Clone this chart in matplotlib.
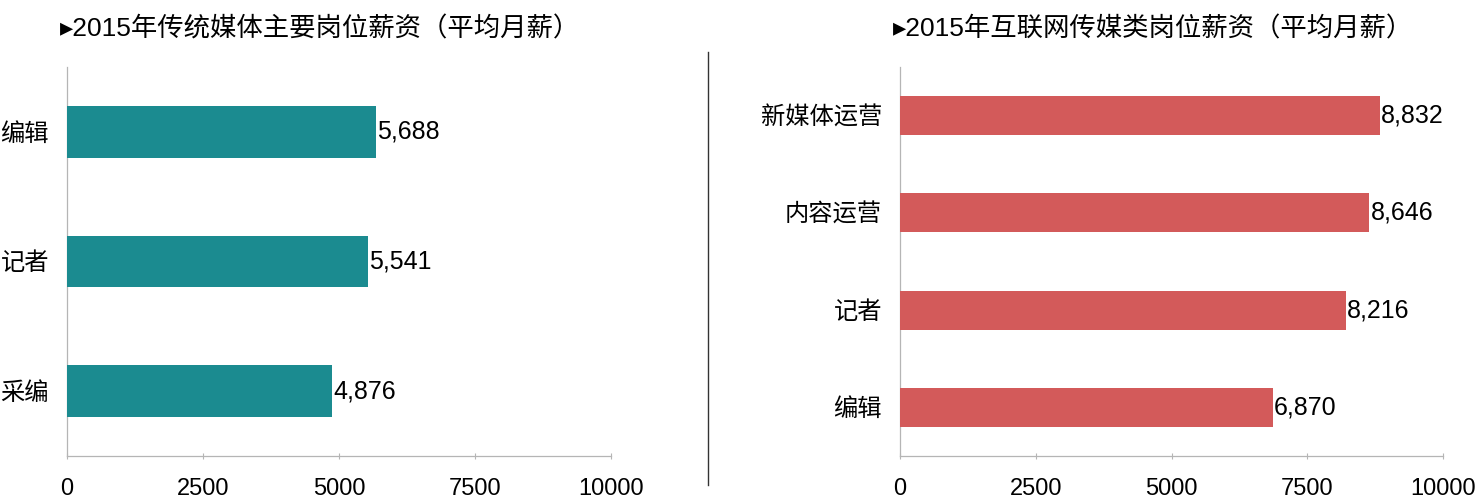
import matplotlib
matplotlib.use("Agg")
import matplotlib.pyplot as plt

# 字型：英數用 Liberation Sans，中文用 Noto Sans CJK SC
plt.rcParams['font.family'] = ['Liberation Sans', 'Noto Sans CJK SC', 'DejaVu Sans']

# 傳統媒體
left_title = "▸2015年传统媒体主要岗位薪资（平均月薪）"
left_jobs = ["编辑", "记者", "采编"]
left_salary = [5688, 5541, 4876]

# 互聯網傳媒
right_title = "▸2015年互联网传媒类岗位薪资（平均月薪）"
right_jobs = ["新媒体运营", "内容运营", "记者", "编辑"]
right_salary = [8832, 8646, 8216, 6870]

x_ticks = [0, 2500, 5000, 7500, 10000]

W, H = 1481, 500
fig = plt.figure(figsize=(W / 100, H / 100), dpi=100)

def draw_panel(rect, jobs, salary, color):
    ax = fig.add_axes(rect)
    n = len(jobs)
    pos = list(range(n))[::-1]
    ax.barh(pos, salary, height=0.4, color=color, zorder=3)
    for p, v in zip(pos, salary):
        ax.text(v + 20, p, f"{v:,}", va='center', ha='left', fontsize=18, color='black')
    ax.set_xlim(0, 10000)
    ax.set_ylim(-0.5, n - 0.5)
    ax.set_yticks(pos)
    ax.set_yticklabels(jobs, fontsize=17.5)
    ax.set_xticks(x_ticks)
    ax.set_xticklabels([str(t) for t in x_ticks], fontsize=17)
    ax.tick_params(axis='y', length=0, pad=13)
    ax.tick_params(axis='x', direction='inout', length=4, width=0.8, color='#b5b5b5', pad=14)
    for s in ['top', 'right']:
        ax.spines[s].set_visible(False)
    for s in ['left', 'bottom']:
        ax.spines[s].set_color('#b5b5b5')
        ax.spines[s].set_linewidth(0.9)
    return ax

ax_l = draw_panel([67 / W, (H - 456) / H, 544 / W, 389 / H], left_jobs, left_salary, '#1b8b90')
ax_r = draw_panel([900 / W, (H - 456) / H, 543 / W, 389 / H], right_jobs, right_salary, '#d35a5a')

fig.text(60 / W, 1 - 29 / H, left_title, fontsize=19, ha='left', va='center')
fig.text(893 / W, 1 - 29 / H, right_title, fontsize=19, ha='left', va='center')

# 中間分隔線
fig.add_artist(plt.Line2D([708 / W, 708 / W], [1 - 52 / H, 1 - 485 / H],
                          transform=fig.transFigure, color='#333333', linewidth=1))

fig.savefig("out.png", dpi=100)
plt.close(fig)
